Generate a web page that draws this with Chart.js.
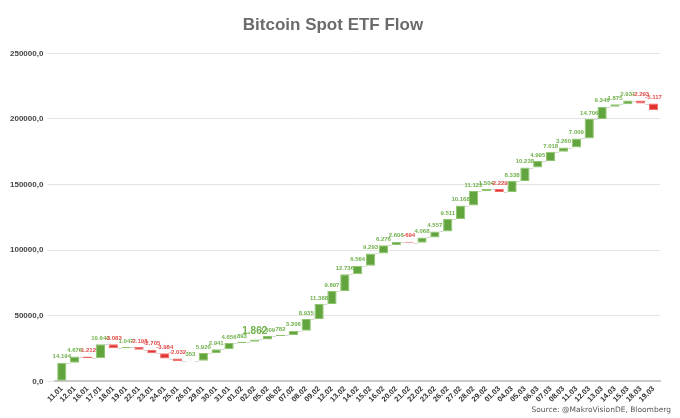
<!DOCTYPE html>
<html>
<head>
<meta charset="utf-8">
<script src="https://cdn.jsdelivr.net/npm/chart.js@4"></script>
<style>
  html, body { margin: 0; padding: 0; background: #fff; }
  #wrap { width: 680px; height: 418px; }
</style>
</head>
<body>
<div id="wrap"><canvas id="flow-chart"></canvas></div>
<script>
// daily flows (BTC), labels as dd.mm
const days = ["11.01", "12.01", "16.01", "17.01", "18.01", "19.01", "22.01", "23.01", "24.01", "25.01",
    "26.01", "29.01", "30.01", "31.01", "01.02", "02.02", "05.02", "06.02", "07.02", "08.02",
    "09.02", "12.02", "13.02", "14.02", "15.02", "16.02", "20.02", "21.02", "22.02", "23.02",
    "26.02", "27.02", "28.02", "29.02", "01.03", "04.03", "05.03", "06.03", "07.03", "08.03",
    "11.03", "12.03", "13.03", "14.03", "15.03", "18.03", "19.03"];
const flows = [14194, 4676, -1212, 10640, -3083, 1047, -2198, -2705, -3984, -2032,
    353, 5920, 2941, 4656, 893, 1862, 2609, 782, 3306, 8935,
    11388, 9897, 12736, 6564, 9293, 6276, 2606, -694, 4068, 4557,
    9511, 10168, 11122, 1504, -2229, 8338, 10238, 4995, 7018, 3260,
    7009, 14706, 9346, 1875, 2931, -2293, -5117];
const yTicks = [0, 50000, 100000, 150000, 200000, 250000];

// ─── Waterfall ranges ────────────────────────────────────────────
const ranges = [];
const cumulative = [];
let running = 0;
flows.forEach(f => {
    ranges.push([running, running + f]);
    running += f;
    cumulative.push(running);
});

const GREEN = "#62a43e";
const GREEN_EDGE = "#8ec56c";
const RED = "#e2302e";
const RED_EDGE = "#ef6a68";

function fmt(v) {
    const s = Math.abs(v).toString().replace(/\B(?=(\d{3})+(?!\d))/g, ".");
    return (v < 0 ? "-" : "") + s;
}

// connector lines between bars
const connectors = {
    id: "connectors",
    beforeDatasetsDraw(chart) {
        const ctx = chart.ctx;
        const meta = chart.getDatasetMeta(0);
        const y = chart.scales.y;
        ctx.save();
        ctx.strokeStyle = "#d6d6d6";
        ctx.lineWidth = 1;
        for (let i = 0; i < meta.data.length - 1; i++) {
            const a = meta.data[i], b = meta.data[i + 1];
            const py = Math.round(y.getPixelForValue(cumulative[i])) + 0.5;
            ctx.beginPath();
            ctx.moveTo(a.x + a.width / 2, py);
            ctx.lineTo(b.x - b.width / 2, py);
            ctx.stroke();
        }
        ctx.restore();
    }
};

// value labels on top of each bar + source note
const valueLabels = {
    id: "valueLabels",
    afterDatasetsDraw(chart) {
        const ctx = chart.ctx;
        const meta = chart.getDatasetMeta(0);
        ctx.save();
        ctx.textAlign = "center";
        ctx.textBaseline = "bottom";
        meta.data.forEach((bar, i) => {
            const v = flows[i];
            const top = Math.min(bar.y, bar.base);
            const big = days[i] === "02.02";
            ctx.font = (big ? "bold 10px" : "bold 6px") + " 'Liberation Sans', Arial, sans-serif";
            ctx.fillStyle = v < 0 ? "#e34a48" : "#6fb04a";
            ctx.fillText(fmt(v), bar.x, top - 3);
        });
        ctx.font = "7.5px 'DejaVu Sans', sans-serif";
        ctx.fillStyle = "#555";
        ctx.textAlign = "right";
        ctx.textBaseline = "middle";
        ctx.fillText("Source: @MakroVisionDE, Bloomberg", 671, 410);
        ctx.restore();
    }
};

new Chart(document.getElementById("flow-chart"), {
    type: "bar",
    data: {
        labels: days,
        datasets: [{
            label: "Flow",
            data: ranges,
            backgroundColor: flows.map(f => f < 0 ? RED : GREEN),
            borderColor: flows.map(f => f < 0 ? RED_EDGE : GREEN_EDGE),
            borderWidth: 1,
            borderSkipped: false,
            barPercentage: 0.72,
            categoryPercentage: 1.0,
        }]
    },
    options: {
        responsive: true,
        maintainAspectRatio: false,
        animation: false,
        layout: { padding: { left: 6, right: 20, top: 6, bottom: 11 } },
        plugins: {
            legend: { display: false },
            tooltip: { enabled: false },
            title: {
                display: true,
                text: "Bitcoin Spot ETF Flow",
                color: "#6b6b6b",
                font: { family: "'Liberation Sans', Arial, sans-serif", size: 17, weight: "bold" },
                padding: { top: 9, bottom: 18 }
            }
        },
        scales: {
            x: {
                grid: { display: false, drawTicks: false },
                border: { color: "#c8c8c8", width: 2 },
                ticks: {
                    color: "#333",
                    font: { family: "'Liberation Sans', Arial, sans-serif", size: 7.5, weight: "bold" },
                    minRotation: 45,
                    maxRotation: 45,
                    autoSkip: false,
                    padding: 3
                }
            },
            y: {
                min: 0,
                max: 250000,
                afterBuildTicks: axis => { axis.ticks = yTicks.map(v => ({ value: v })); },
                grid: { color: "#e4e4e4", tickLength: 8, tickColor: "#e4e4e4" },
                border: { display: false },
                ticks: {
                    color: "#444",
                    font: { family: "'Liberation Sans', Arial, sans-serif", size: 8, weight: "bold" },
                    padding: 4,
                    callback: v => v.toFixed(1).replace(".", ",")
                }
            }
        }
    },
    plugins: [connectors, valueLabels]
});
</script>
</body>
</html>
